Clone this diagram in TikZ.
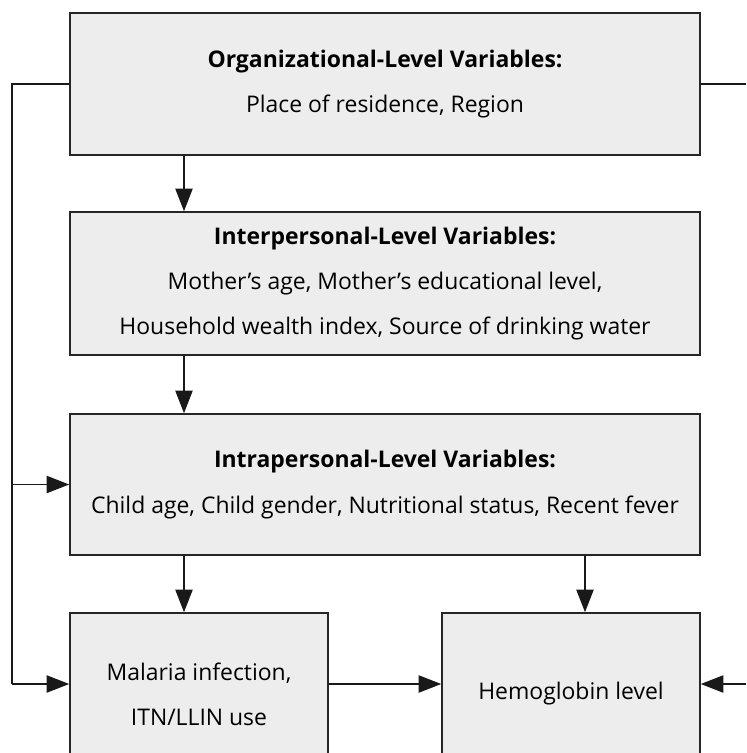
\documentclass[tikz,border=0pt]{standalone}
\usepackage{fontspec}
\setmainfont{Open Sans}
\usetikzlibrary{arrows.meta}
\definecolor{boxgray}{HTML}{EDEDED}

\begin{document}
\begin{tikzpicture}[x=0.75pt,y=0.75pt,yscale=-1,
  varbox/.style={draw=black!85, fill=boxgray, line width=1.2pt, inner sep=0pt, align=center, font=\fontsize{17.2}{34}\selectfont},
  link/.style={draw=black!90, line width=1.1pt, -{Triangle[length=17pt,width=13pt]}},
  plain/.style={draw=black!90, line width=1.1pt}]
\useasboundingbox (0,0) rectangle (746,753);
\clip (0,0) rectangle (746,753);

% Text Node
\node[varbox, minimum width=472.5pt, minimum height=106.5pt] (org) at (385,84) {\textbf{Organizational-Level Variables:}\\Place of residence, Region};
% Text Node
\node[varbox, minimum width=472.5pt, minimum height=107.25pt] (inter) at (385,283.5) {\textbf{Interpersonal-Level Variables:}\\Mother’s age, Mother’s educational level,\\Household wealth index, Source of drinking water};
% Text Node
\node[varbox, minimum width=472.5pt, minimum height=105.75pt] (intra) at (385,484.5) {\textbf{Intrapersonal-Level Variables:}\\Child age, Child gender, Nutritional status, Recent fever};
% Text Node
\node[varbox, minimum width=193.5pt, minimum height=121.5pt] (malaria) at (199,694) {Malaria infection,\\ITN/LLIN use};
% Text Node
\node[varbox, minimum width=193.5pt, minimum height=121.5pt] (hemo) at (571,694) {Hemoglobin level};

\coordinate (lcol) at (184,0);
\coordinate (rcol) at (585,0);
\coordinate (rail) at (12,684);
\coordinate (edge) at (746,684);

%Straight Lines
\draw[link] (org.south -| lcol) -- (inter.north -| lcol);
\draw[link] (inter.south -| lcol) -- (intra.north -| lcol);
\draw[link] (intra.south -| lcol) -- (malaria.north -| lcol);
\draw[link] (intra.south -| rcol) -- (hemo.north -| rcol);
%Straight Lines
\draw[plain] (org.west) -| (rail);
\draw[link] (intra.west -| rail) -- (intra.west);
\draw[link] (rail) -- (rail -| malaria.west);
\draw[link] (rail -| malaria.east) -- (rail -| hemo.west);
%Straight Lines
\draw[plain] (org.east) -- (org.east -| edge);
\draw[link] (edge) -- (edge -| hemo.east);

\end{tikzpicture}
\end{document}
